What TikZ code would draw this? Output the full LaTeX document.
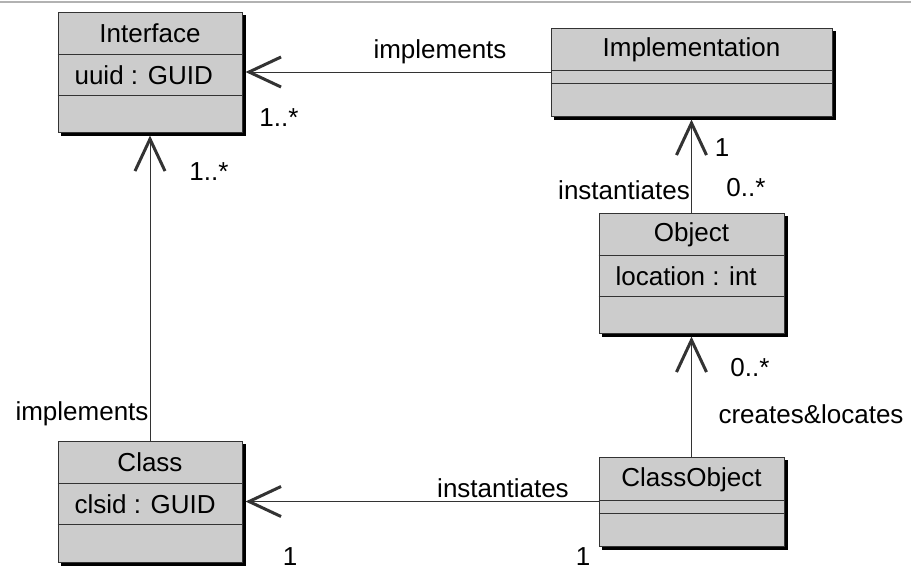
\documentclass[tikz,border=0pt]{standalone}
\usepackage{fontspec}
\setmainfont{Liberation Sans}
\usetikzlibrary{positioning,arrows.meta,calc,backgrounds}
\definecolor{boxgray}{HTML}{CCCCCC}
\definecolor{edge}{HTML}{333333}

\begin{document}
\begin{tikzpicture}[x=0.5pt, y=-0.5pt,
    font=\fontsize{13}{15.6}\selectfont,
    umlbox/.style={rectangle, draw=edge, fill=boxgray, line width=0.5pt, inner sep=0pt},
    divider/.style={draw=edge, line width=0.5pt},
    assoc/.style={-{Straight Barb[length=16pt, width=15pt, line width=1.5pt]}, line width=0.5pt, draw=edge, shorten >=1.5pt}
]
    \useasboundingbox (0,0) rectangle (911,569);
    \draw[gray!60, line width=1pt] (0,2) -- (911,2);

    % Classes
    \node[umlbox, minimum width=92pt, minimum height=60pt] (iface) at (150,72) {};
    \node[umlbox, minimum width=140.5pt, minimum height=44pt] (impl) at (691.5,72) {};
    \node[umlbox, minimum width=92.5pt, minimum height=60pt] (obj) at (691.5,273) {};
    \node[umlbox, minimum width=92pt, minimum height=60.5pt] (cls) at (150,501.5) {};
    \node[umlbox, minimum width=92.5pt, minimum height=44.5pt] (cobj) at (691.5,501.5) {};

    % Shadows
    \begin{scope}[on background layer]
        \foreach \nm in {iface, impl, obj, cls, cobj}
            \fill[black] ($(\nm.south west)+(3,3)$) rectangle ($(\nm.north east)+(3,3)$);
    \end{scope}

    % Compartments
    \foreach \nm/\offs in {iface/43, iface/84, impl/43, impl/56, obj/43, obj/84, cls/43, cls/84, cobj/44, cobj/57}
        \draw[divider] ($(\nm.north west)+(0,\offs)$) -- ($(\nm.north east)+(0,\offs)$);

    % Names and attributes
    \node (iface-name) at ($(iface.north)+(0,22)$) {Interface};
    \node[anchor=west] (iface-attr) at ($(iface.north west)+(10,64)$) {uuid : GUID};
    \node (impl-name) at ($(impl.north)+(0,22)$) {Implementation};
    \node (obj-name) at ($(obj.north)+(0,22)$) {Object};
    \node[anchor=west] (obj-attr) at ($(obj.north west)+(10,64)$) {location : int};
    \node (cls-name) at ($(cls.north)+(0,22)$) {Class};
    \node[anchor=west] (cls-attr) at ($(cls.north west)+(10,64)$) {clsid : GUID};
    \node (cobj-name) at ($(cobj.north)+(0,23)$) {ClassObject};

    % Associations
    \draw[assoc] (impl.west) -- (iface.east |- impl.west);
    \draw[assoc] (cls.north) -- (iface.south);
    \draw[assoc] (obj.north) -- (impl.south);
    \draw[assoc] (cobj.north) -- (obj.south);
    \draw[assoc] (cobj.west) -- (cls.east);

    % Roles and multiplicities
    \node (impl-role) at (440,52) {implements};
    \node (iface-m1) at (279,118) {1..*};
    \node (iface-m2) at (209,172) {1..*};
    \node (cls-role) at (82,414) {implements};
    \node (impl-m) at (722,148) {1};
    \node (obj-role) at (624,190) {instantiates};
    \node (obj-m1) at (746,188) {0..*};
    \node (obj-m2) at (750,368) {0..*};
    \node (cobj-role) at (811,414) {creates\&locates};
    \node (cls-inst) at (503,488) {instantiates};
    \node (cls-m) at (290,557) {1};
    \node (cobj-m) at (583,557) {1};
\end{tikzpicture}
\end{document}
